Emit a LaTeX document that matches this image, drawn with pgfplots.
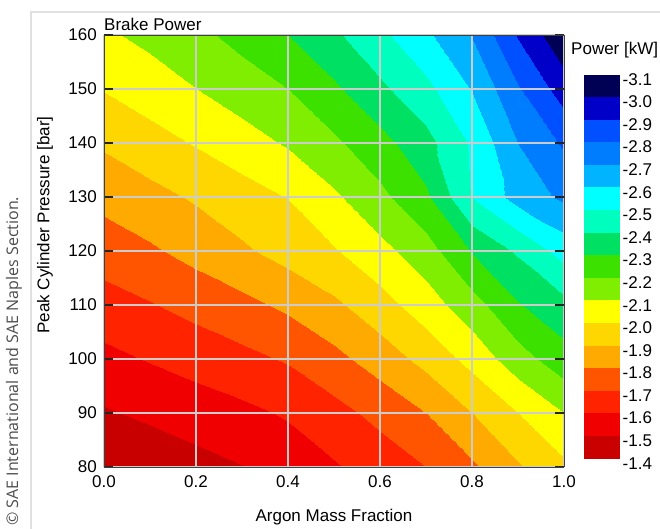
\documentclass[border=0pt]{standalone}
\usepackage{fontspec}
\setmainfont{Liberation Sans}
\newfontfamily\cfont{Open Sans}
\usepackage{pgfplots}
\pgfplotsset{compat=1.18}
\newcommand\chartfont{\fontsize{17}{20}\selectfont}
\begin{document}
\begin{tikzpicture}[x=1pt,y=1pt]
\useasboundingbox (0,0) rectangle (660,529);
\draw[black!12, line width=1.5pt] (31,0) -- (31,517) -- (660,517);
\node[rotate=90, anchor=west, inner sep=0pt, text=black!70, font=\cfont\fontsize{16}{18}\selectfont] at (14,3) {© SAE International and SAE Naples Section.};
\begin{axis}[
  at={(104pt,62pt)}, anchor=south west,
  width=460pt, height=432pt, scale only axis,
  view={0}{90},
  xmin=0, xmax=1, ymin=80, ymax=160,
  enlargelimits=false,
  axis on top,
  xtick={0,0.2,0.4,0.6,0.8,1}, xticklabels={0.0,0.2,0.4,0.6,0.8,1.0},
  ytick={80,90,100,110,120,130,140,150,160},
  yticklabels={80,90,100,110,120,130,140,150,160},
  ztick=\empty,
  grid=major, grid style={draw=black!20, line width=1.2pt},
  tick align=inside, major tick length=9pt,
  xtick style={draw=none}, ytick style={draw=black!85, line width=1.6pt},
  axis line style={draw=black!75, line width=0.8pt},
  xticklabel style={anchor=north, inner sep=0pt, yshift=-8pt, font=\chartfont},
  yticklabel style={anchor=east, inner sep=0pt, xshift=-7pt, font=\chartfont},
  colormap={brake}{rgb255=(0,0,85) rgb255=(0,0,200) rgb255=(0,80,255) rgb255=(0,125,255) rgb255=(0,180,255) rgb255=(0,255,255) rgb255=(0,255,190) rgb255=(0,225,100) rgb255=(60,225,0) rgb255=(128,238,0) rgb255=(255,255,0) rgb255=(255,215,0) rgb255=(255,170,0) rgb255=(255,85,0) rgb255=(255,35,0) rgb255=(240,0,0) rgb255=(200,0,0)},
  colormap access=piecewise constant,
  point meta min=-3.1, point meta max=-1.4,
  colorbar,
  colorbar style={
    at={(parent axis.north east)}, anchor=north west,
    xshift=11pt, yshift=-39.3pt,
    width=37pt, height=384pt, scale only axis,
    y dir=reverse,
    ytick={-3.1,-3.0,-2.9,-2.8,-2.7,-2.6,-2.5,-2.4,-2.3,-2.2,-2.1,-2.0,-1.9,-1.8,-1.7,-1.6,-1.5,-1.4},
    yticklabels={-3.1,-3.0,-2.9,-2.8,-2.7,-2.6,-2.5,-2.4,-2.3,-2.2,-2.1,-2.0,-1.9,-1.8,-1.7,-1.6,-1.5,-1.4},
    yticklabel pos=right,
    yticklabel style={anchor=west, inner sep=0pt, xshift=2pt, yshift=-5pt, font=\chartfont},
    major tick length=0pt, tick style={draw=none},
    axis line style={draw=none},
  },
]
\addplot3[surf, shader=interp, point meta=z, mesh/cols=11, mesh/ordering=x varies] table {
x y z
0.0 80 -1.407
0.1 80 -1.437
0.2 80 -1.467
0.3 80 -1.497
0.4 80 -1.543
0.5 80 -1.590
0.6 80 -1.644
0.7 80 -1.700
0.8 80 -1.783
0.9 80 -1.889
1.0 80 -1.980
0.0 90 -1.490
0.1 90 -1.518
0.2 90 -1.547
0.3 90 -1.576
0.4 90 -1.611
0.5 90 -1.667
0.6 90 -1.729
0.7 90 -1.800
0.8 90 -1.900
0.9 90 -2.000
1.0 90 -2.100
0.0 100 -1.573
0.1 100 -1.607
0.2 100 -1.640
0.3 100 -1.673
0.4 100 -1.710
0.5 100 -1.772
0.6 100 -1.846
0.7 100 -1.932
0.8 100 -2.033
0.9 100 -2.157
1.0 100 -2.260
0.0 110 -1.660
0.1 110 -1.694
0.2 110 -1.733
0.3 110 -1.773
0.4 110 -1.820
0.5 110 -1.881
0.6 110 -1.961
0.7 110 -2.052
0.8 110 -2.159
0.9 110 -2.293
1.0 110 -2.370
0.0 120 -1.746
0.1 120 -1.786
0.2 120 -1.834
0.3 120 -1.885
0.4 120 -1.938
0.5 120 -1.992
0.6 120 -2.069
0.7 120 -2.157
0.8 120 -2.307
0.9 120 -2.414
1.0 120 -2.540
0.0 130 -1.830
0.1 130 -1.870
0.2 130 -1.912
0.3 130 -1.957
0.4 130 -2.003
0.5 130 -2.084
0.6 130 -2.175
0.7 130 -2.282
0.8 130 -2.505
0.9 130 -2.640
1.0 130 -2.720
0.0 140 -1.914
0.1 140 -1.960
0.2 140 -2.008
0.3 140 -2.058
0.4 140 -2.111
0.5 140 -2.182
0.6 140 -2.266
0.7 140 -2.366
0.8 140 -2.514
0.9 140 -2.701
1.0 140 -2.815
0.0 150 -2.005
0.1 150 -2.052
0.2 150 -2.099
0.3 150 -2.149
0.4 150 -2.200
0.5 150 -2.283
0.6 150 -2.380
0.7 150 -2.473
0.8 150 -2.606
0.9 150 -2.791
1.0 150 -2.950
0.0 160 -2.085
0.1 160 -2.125
0.2 160 -2.175
0.3 160 -2.233
0.4 160 -2.300
0.5 160 -2.383
0.6 160 -2.476
0.7 160 -2.582
0.8 160 -2.706
0.9 160 -2.909
1.0 160 -3.080
};
\end{axis}
\node[anchor=base west, inner sep=0pt, font=\chartfont] at (104,498) {Brake Power};
\node[anchor=base, inner sep=0pt, font=\chartfont] at (334,7) {Argon Mass Fraction};
\node[rotate=90, anchor=center, inner sep=0pt, font=\chartfont] at (45,304) {Peak Cylinder Pressure [bar]};
\node[anchor=base west, inner sep=0pt, font=\chartfont] at (571,474) {Power [kW]};
\end{tikzpicture}
\end{document}
